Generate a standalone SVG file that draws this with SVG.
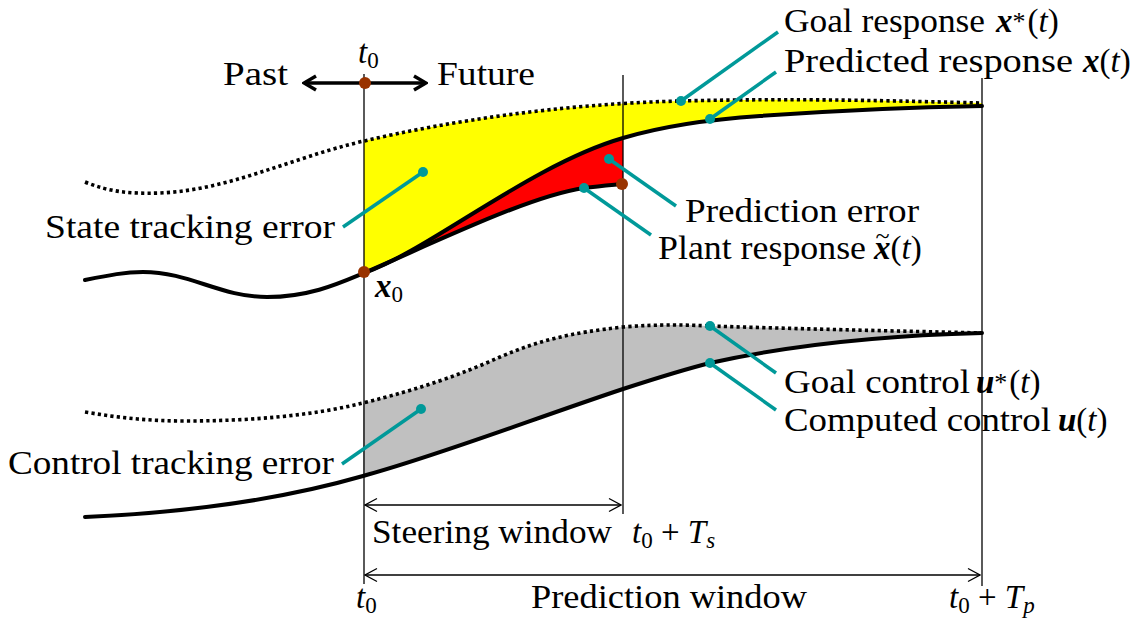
<svg xmlns="http://www.w3.org/2000/svg" width="1136" height="619" viewBox="0 0 1136 619">
<defs>
<marker id="thick" viewBox="0 0 16 18" refX="14" refY="9" markerWidth="16" markerHeight="18" markerUnits="userSpaceOnUse" orient="auto-start-reverse">
<path d="M2,2 L14,9 L2,16" fill="none" stroke="#000" stroke-width="3.5"/>
</marker>
<marker id="thinhead" viewBox="0 0 14 16" refX="13" refY="8" markerWidth="14" markerHeight="16" markerUnits="userSpaceOnUse" orient="auto-start-reverse">
<path d="M1,1.5 L13,8 L1,14.5" fill="none" stroke="#000" stroke-width="1.3"/>
</marker>
</defs>
<rect width="1136" height="619" fill="#fff"/>

<g id="regions">
<path d="M364,141 C450,121 560,104 680,101 C800,98 900,101 982,103 L982,106 C920,107 830,111 760,116 C700,120 660,127 623,138 C530,165 430,250 364,273 Z" fill="#ffff00"/>
<path d="M364,273 C430,250 530,165 623,138 L623,184 C612,185 600,186 584,188 C530,196 440,240 364,273 Z" fill="#ff0000"/>
<path d="M363,403 C420,389 460,375 500,357 C540,340 570,333 623,327 C660,324 690,325 710,326 C800,329 900,331 982,333 C900,335 800,343 710,363 C690,368 660,377 623,389 C530,420 440,455 363,476 Z" fill="#c0c0c0"/>
</g>

<g id="guides" stroke="#000" stroke-width="1.3" fill="none">
<line x1="364" y1="74" x2="364" y2="584"/>
<line x1="623" y1="75" x2="623" y2="514"/>
<line x1="982" y1="78" x2="982" y2="586"/>
</g>

<g id="curves" fill="none" stroke="#000">
<g stroke-width="3.6" stroke-dasharray="3.2 3.2">
<path d="M85,182 C110,192 130,194 160,193 C230,190 290,158 364,141 C450,121 560,104 680,101 C800,98 900,101 982,103"/>
<path d="M85,412 C120,418 150,421 185,421 C250,421 310,416 363,403 C420,389 460,375 500,357 C540,340 570,333 623,327 C660,324 690,325 710,326 C800,329 900,331 982,333"/>
</g>
<g stroke-width="4" stroke-linecap="round">
<path d="M85,280 C110,275 125,272 143,272 C190,272 220,297 267,297 C310,297 340,283 364,273 C430,250 530,165 623,138 C660,127 700,120 760,116 C830,111 920,107 982,106"/>
<path d="M364,273 C440,240 530,196 584,188 C600,186 612,185 622,184"/>
<path d="M85,517 C200,512 290,497 363,476 C440,455 530,420 623,389 C660,377 690,368 710,363 C800,343 900,335 982,333"/>
</g>
</g>

<g id="connectors">
<g stroke="#009999" stroke-width="3.5" fill="none">
<line x1="343" y1="227" x2="423" y2="172"/>
<line x1="681" y1="101" x2="778" y2="32"/>
<line x1="710" y1="119" x2="776" y2="72"/>
<line x1="609" y1="159" x2="676" y2="206"/>
<line x1="584" y1="188" x2="651" y2="235"/>
<line x1="342" y1="464" x2="421" y2="409"/>
<line x1="710" y1="326" x2="776" y2="373"/>
<line x1="710" y1="363" x2="776" y2="410"/>
</g>
<line x1="304" y1="83" x2="426" y2="83" stroke="#000" stroke-width="3.5" marker-start="url(#thick)" marker-end="url(#thick)"/>
<g stroke="#000" stroke-width="1.3" fill="none">
<line x1="365" y1="505" x2="621" y2="505" marker-start="url(#thinhead)" marker-end="url(#thinhead)"/>
<line x1="365" y1="575" x2="980" y2="575" marker-start="url(#thinhead)" marker-end="url(#thinhead)"/>
</g>
</g>

<g id="dots">
<g fill="#009999">
<circle cx="423" cy="172" r="5"/>
<circle cx="681" cy="101" r="5"/>
<circle cx="710" cy="119" r="5"/>
<circle cx="609" cy="159" r="5"/>
<circle cx="584" cy="188" r="5"/>
<circle cx="421" cy="409" r="5"/>
<circle cx="710" cy="326" r="5"/>
<circle cx="710" cy="363" r="5"/>
</g>
<g fill="#993300">
<circle cx="365" cy="83" r="6"/>
<circle cx="364" cy="272" r="6"/>
<circle cx="622" cy="184" r="6"/>
</g>
</g>

<g id="time-direction">
<text font-family="Liberation Serif" font-size="33" x="223" y="85" textLength="65" lengthAdjust="spacingAndGlyphs">Past</text>
<text font-family="Liberation Serif" font-size="33" x="437" y="85" textLength="98" lengthAdjust="spacingAndGlyphs">Future</text>
<text font-family="Liberation Serif" font-size="33" x="358" y="63"><tspan font-style="italic">t</tspan><tspan font-size="23" dy="5">0</tspan></text>
</g>

<g id="goal-response">
<text font-family="Liberation Serif" font-size="33" x="784" y="32" textLength="201" lengthAdjust="spacingAndGlyphs">Goal response</text>
<text font-family="Liberation Serif" font-size="33" x="996" y="32"><tspan font-style="italic" font-weight="bold">x</tspan><tspan font-size="26" dy="-2">*</tspan><tspan dy="2" dx="2">(</tspan><tspan font-style="italic">t</tspan>)</text>
</g>

<g id="predicted-response">
<text font-family="Liberation Serif" font-size="33" x="784" y="72" textLength="289" lengthAdjust="spacingAndGlyphs">Predicted response</text>
<text font-family="Liberation Serif" font-size="33" x="1083" y="72"><tspan font-style="italic" font-weight="bold">x</tspan>(<tspan font-style="italic">t</tspan>)</text>
</g>

<g id="state-tracking-error">
<text font-family="Liberation Serif" font-size="33" x="45" y="238" textLength="290" lengthAdjust="spacingAndGlyphs">State tracking error</text>
</g>

<g id="x0">
<text font-family="Liberation Serif" font-size="33" x="375" y="297"><tspan font-style="italic" font-weight="bold">x</tspan><tspan font-size="23" dy="5">0</tspan></text>
</g>

<g id="prediction-error">
<text font-family="Liberation Serif" font-size="33" x="685" y="222" textLength="234" lengthAdjust="spacingAndGlyphs">Prediction error</text>
</g>

<g id="plant-response">
<text font-family="Liberation Serif" font-size="33" x="658" y="259" textLength="208" lengthAdjust="spacingAndGlyphs">Plant response</text>
<text font-family="Liberation Serif" font-size="33" x="874" y="259"><tspan font-style="italic" font-weight="bold">x</tspan><tspan font-size="26" dx="-15" dy="-15">~</tspan><tspan dx="1" dy="15">(</tspan><tspan font-style="italic">t</tspan>)</text>
</g>

<g id="control-tracking-error">
<text font-family="Liberation Serif" font-size="33" x="8" y="474" textLength="326" lengthAdjust="spacingAndGlyphs">Control tracking error</text>
</g>

<g id="goal-control">
<text font-family="Liberation Serif" font-size="33" x="784" y="393" textLength="186" lengthAdjust="spacingAndGlyphs">Goal control</text>
<text font-family="Liberation Serif" font-size="33" x="976" y="393"><tspan font-style="italic" font-weight="bold">u</tspan><tspan font-size="26" dy="-2">*</tspan><tspan dy="2" dx="2">(</tspan><tspan font-style="italic">t</tspan>)</text>
</g>

<g id="computed-control">
<text font-family="Liberation Serif" font-size="33" x="784" y="431" textLength="267" lengthAdjust="spacingAndGlyphs">Computed control</text>
<text font-family="Liberation Serif" font-size="33" x="1058" y="431"><tspan font-style="italic" font-weight="bold">u</tspan>(<tspan font-style="italic">t</tspan>)</text>
</g>

<g id="steering-window">
<text font-family="Liberation Serif" font-size="33" x="372" y="543" textLength="240" lengthAdjust="spacingAndGlyphs">Steering window</text>
<text font-family="Liberation Serif" font-size="33" x="632" y="543"><tspan font-style="italic">t</tspan><tspan font-size="23" dy="5">0</tspan><tspan dy="-5"> + </tspan><tspan font-style="italic">T</tspan><tspan font-size="23" font-style="italic" dy="5">s</tspan></text>
</g>

<g id="prediction-window">
<text font-family="Liberation Serif" font-size="33" x="356" y="608"><tspan font-style="italic">t</tspan><tspan font-size="23" dy="5">0</tspan></text>
<text font-family="Liberation Serif" font-size="33" x="531" y="608" textLength="276" lengthAdjust="spacingAndGlyphs">Prediction window</text>
<text font-family="Liberation Serif" font-size="33" x="949" y="608"><tspan font-style="italic">t</tspan><tspan font-size="23" dy="5">0</tspan><tspan dy="-5"> + </tspan><tspan font-style="italic">T</tspan><tspan font-size="23" font-style="italic" dy="5">p</tspan></text>
</g>
</svg>
